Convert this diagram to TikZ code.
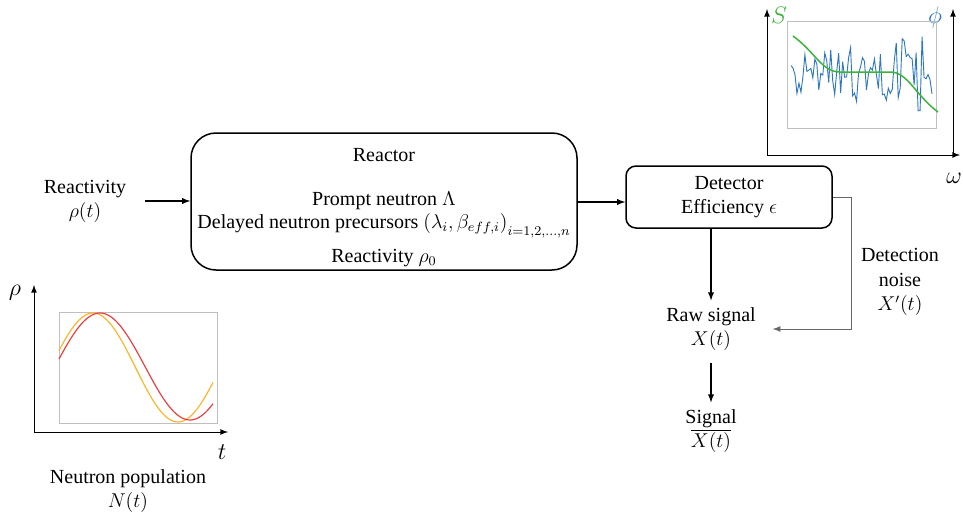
\documentclass[tikz,border=0pt,12pt]{standalone}
\usepackage{fontspec}
\setmainfont{Liberation Serif}
\definecolor{sgreen}{RGB}{60,180,60}
\definecolor{phiblue}{RGB}{45,120,190}
\definecolor{sinorange}{RGB}{255,180,40}
\definecolor{sinred}{RGB}{240,60,60}
\tikzset{
    blockbox/.style = {draw, line width = 0.9pt, rounded corners = 15pt},
    flow/.style = {-latex, line width = 0.7pt},
    lbl/.style = {align = center, inner sep = 2pt}
}
\begin{document}
\begin{tikzpicture}[x = 0.6pt, y = -0.6pt]
    \useasboundingbox (0,0) rectangle (963,515);
    %反应堆方框及其参数
    \node[blockbox, minimum width = 231.6pt, minimum height = 82.2pt] (reactor) at (384,201.5) {};
    \node (reactortitle) at (384,155) {Reactor};
    \node (prompt) at (384,201) {Prompt neutron $\Lambda$};
    \node (delayed) at (384,226) {Delayed neutron precursors $\left(\lambda_i,\beta_{eff,i}\right)_{i=1,2,\ldots,n}$};
    \node (reactzero) at (384,258) {Reactivity $\rho_0$};
    %输入反应性
    \node[lbl] (rho) at (85,201) {Reactivity\\$\rho(t)$};
    \draw[flow] ([xshift = 9pt]rho.east) -- (rho.east -| reactor.west);
    %探测器
    \node[blockbox, rounded corners = 6pt, minimum width = 123.6pt, minimum height = 37.2pt, lbl] (detector) at (729,197) {Detector\\Efficiency $\epsilon$};
    \draw[flow] (reactor.east |- 0,202) -- (detector.west |- 0,202);
    %原始信号与信号
    \node[lbl] (raw) at (711,329) {Raw signal\\$X(t)$};
    \node[lbl] (signal) at (711,431) {Signal\\$\overline{X(t)}$};
    \draw[flow] (detector.south -| raw.north) -- ([yshift = 2pt]raw.north);
    \draw[flow, shorten <= 5pt, shorten >= 2pt] (raw.south) -- (signal.north);
    %探测噪声
    \node[lbl] (noise) at (900,282) {Detection\\noise\\$X'(t)$};
    \coordinate (noisecorner) at (851,197);
    \draw[-latex, gray!80!black, line width = 0.6pt, shorten >= 8pt] (detector.east) -- (noisecorner) |- (raw.east);

    %左下角: 反应性与中子数
    \draw[-latex, line width = 0.6pt] (34,432) -- (34,285);
    \draw[-latex, line width = 0.6pt] (34,432) -- (228,432);
    \node (rholabel) at (15,293) {\large $\rho$};
    \node (tlabel) at (222,452) {\large $t$};
    \draw[gray!50] (59,312) rectangle (217,423);
    \draw[sinorange, line width = 0.7pt] plot[domain = 59:213, samples = 80, smooth] (\x, {367.5 - 54.5*sin(360/170*(\x - 50.5))});
    \draw[sinred, line width = 0.7pt] plot[domain = 59:213, samples = 80, smooth] (\x, {366.5 - 53.5*sin(360/180*(\x - 55))});
    \node[lbl] (population) at (128,491) {Neutron population\\$N(t)$};

    %右上角: 频谱
    \draw[-latex, line width = 0.6pt] (767,155) -- (767,9);
    \draw[-latex, line width = 0.6pt] (767,155) -- (960,155);
    \draw[-latex, line width = 0.6pt] (953,155) -- (953,9);
    \node[text = sgreen] (slabel) at (779,15) {\large $S$};
    \node[text = phiblue] (philabel) at (935,17) {\large $\phi$};
    \node (omegalabel) at (954,178) {\large $\omega$};
    \draw[gray!50] (787,21) rectangle (936,128);
    \pgfmathsetseed{23}
    \draw[phiblue, line width = 0.55pt] plot[domain = 791:932, samples = 72] (\x, {76 + (20 + 0.16*(\x - 791))*rand});
    \draw[sgreen, line width = 0.9pt] (793,36) .. controls (815,52) and (822,72) .. (840,72) -- (890,72) .. controls (908,72) and (915,95) .. (938,112);
\end{tikzpicture}
\end{document}
